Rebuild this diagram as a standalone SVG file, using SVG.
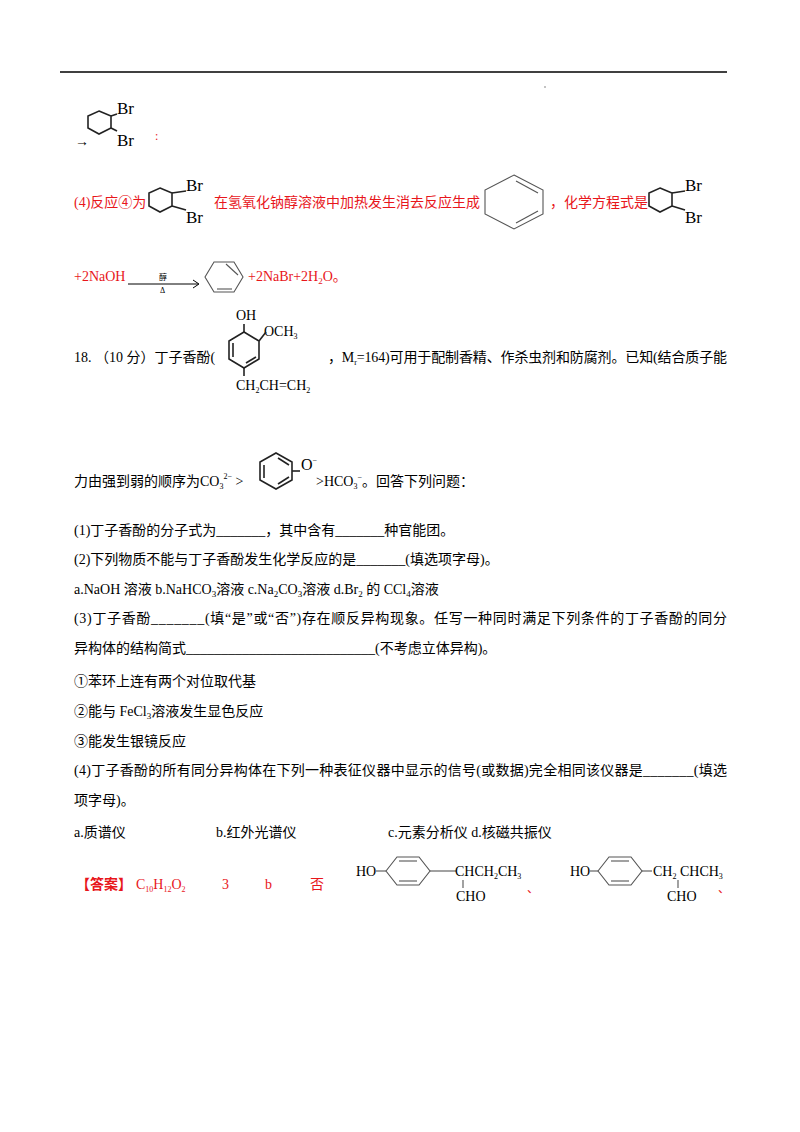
<svg xmlns="http://www.w3.org/2000/svg" width="800" height="1132" viewBox="0 0 800 1132">
<style>
svg{font-size:14px}
text{font-family:"Liberation Serif","Noto Sans CJK SC",serif;fill:#000}
.r{fill:#e8161b}
.b{stroke:#222;stroke-width:1.6;fill:none}
.g{stroke:#555;stroke-width:1.1;fill:none}
</style>
<rect width="800" height="1132" fill="#fff"/>
<line x1="60" y1="72" x2="727" y2="72" stroke="#000" stroke-width="1.5"/>
<circle cx="545" cy="87" r="0.8" fill="#777"/>
<g id="row1">
<text x="75" y="146">→</text>
<polygon class="b" points="99,111 111,116 111,128 99,134 88,128 88,116"/>
<line class="b" x1="111" y1="116" x2="117" y2="114"/><line class="b" x1="111" y1="128" x2="117" y2="131"/>
<text x="117" y="114" font-size="17">Br</text><text x="117" y="146" font-size="17">Br</text>
<text x="155" y="140" class="r" font-size="12">:</text>
</g>
<g id="row4">
<text x="74" y="207" class="r">(4)反应④为</text>
<polygon class="b" points="160,188 172,193 172,206 160,212 149,206 149,193"/>
<line class="b" x1="172" y1="193" x2="186" y2="191"/><line class="b" x1="172" y1="206" x2="186" y2="210"/>
<text x="186" y="191" font-size="17">Br</text><text x="186" y="223" font-size="17">Br</text>
<text x="214" y="207" class="r">在氢氧化钠醇溶液中加热发生消去反应生成</text>
<polygon class="g" points="514,175 543,190 543,214 514,229 485,214 485,190"/>
<line class="g" x1="516" y1="181" x2="538" y2="193"/><line class="g" x1="516" y1="223" x2="538" y2="211"/>
<text x="550" y="207" class="r">，化学方程式是</text>
<polygon class="b" points="660,188 672,193 672,206 660,212 649,206 649,193"/>
<line class="b" x1="672" y1="193" x2="685" y2="191"/><line class="b" x1="672" y1="206" x2="685" y2="210"/>
<text x="685" y="191" font-size="17">Br</text><text x="685" y="223" font-size="17">Br</text>
</g>
<g id="eq">
<text x="74" y="281" class="r">+2NaOH</text>
<line x1="128" y1="284" x2="198" y2="284" stroke="#000" stroke-width="1"/>
<polyline points="193,280 199,284 193,288" stroke="#000" fill="none" stroke-width="1"/>
<text x="159" y="280" font-size="8">醇</text><text x="160" y="293" font-size="8">Δ</text>
<polygon class="g" points="205,277 214,262 234,262 243,277 234,292 214,292"/>
<line class="g" x1="226" y1="264" x2="238" y2="275"/><line class="g" x1="217" y1="289" x2="232" y2="289"/>
<text x="248" y="281" class="r">+2NaBr+2H<tspan font-size="9" dy="3">2</tspan><tspan dy="-3">O。</tspan></text>
</g>
<g id="q18">
<text x="74" y="362">18. （10 分）丁子香酚(</text>
<text x="236" y="320">OH</text>
<text x="264" y="336">OCH<tspan font-size="8" dy="3">3</tspan></text>
<polygon class="b" points="244,332 259,341 259,359 244,368 229,359 229,341"/>
<line class="b" x1="233" y1="343" x2="233" y2="357"/><line class="b" x1="246" y1="363" x2="256" y2="357"/>
<line class="b" x1="244" y1="332" x2="244" y2="324"/><line class="b" x1="259" y1="341" x2="266" y2="332"/>
<line class="b" x1="244" y1="368" x2="244" y2="376"/>
<text x="236" y="390">CH<tspan font-size="8" dy="3">2</tspan><tspan dy="-3">CH=CH</tspan><tspan font-size="8" dy="3">2</tspan></text>
<text x="328" y="362" textLength="399">，M<tspan font-size="8" dy="3">r</tspan><tspan dy="-3">=164)可用于配制香精、作杀虫剂和防腐剂。已知(结合质子能</tspan></text>
<text x="74" y="486">力由强到弱的顺序为CO<tspan font-size="8" dy="3">3</tspan><tspan font-size="8" dy="-10">2−</tspan><tspan dy="7"> &gt;</tspan></text>
<polygon class="b" points="276,453 292,462 292,480 276,489 260,480 260,462"/>
<line class="b" x1="264" y1="465" x2="264" y2="478"/><line class="b" x1="278" y1="458" x2="289" y2="465"/><line class="b" x1="278" y1="484" x2="289" y2="477"/>
<line class="b" x1="292" y1="471" x2="300" y2="471"/>
<text x="301" y="470" font-size="16">O<tspan font-size="8" dy="-7">−</tspan></text>
<text x="316" y="486">&gt;HCO<tspan font-size="8" dy="3">3</tspan><tspan font-size="8" dy="-9">−</tspan><tspan dy="6">。回答下列问题：</tspan></text>
<text x="74" y="535">(1)丁子香酚的分子式为_______，其中含有_______种官能团。</text>
<text x="74" y="564">(2)下列物质不能与丁子香酚发生化学反应的是_______(填选项字母)。</text>
<text x="74" y="594">a.NaOH 溶液  b.NaHCO<tspan font-size="9" dy="3">3</tspan><tspan dy="-3">溶液  c.Na</tspan><tspan font-size="9" dy="3">2</tspan><tspan dy="-3">CO</tspan><tspan font-size="9" dy="3">3</tspan><tspan dy="-3">溶液  d.Br</tspan><tspan font-size="9" dy="3">2</tspan><tspan dy="-3"> 的 CCl</tspan><tspan font-size="9" dy="3">4</tspan><tspan dy="-3">溶液</tspan></text>
<text x="74" y="623" textLength="653">(3)丁子香酚_______(填“是”或“否”)存在顺反异构现象。任写一种同时满足下列条件的丁子香酚的同分</text>
<text x="74" y="653">异构体的结构简式___________________________(不考虑立体异构)。</text>
<text x="74" y="686">①苯环上连有两个对位取代基</text>
<text x="74" y="716">②能与 FeCl<tspan font-size="9" dy="3">3</tspan><tspan dy="-3">溶液发生显色反应</tspan></text>
<text x="74" y="746">③能发生银镜反应</text>
<text x="74" y="775" textLength="653">(4)丁子香酚的所有同分异构体在下列一种表征仪器中显示的信号(或数据)完全相同该仪器是_______(填选</text>
<text x="74" y="805">项字母)。</text>
<text x="74" y="837">a.质谱仪</text><text x="216" y="837">b.红外光谱仪</text><text x="388" y="837">c.元素分析仪 d.核磁共振仪</text>
</g>
<g id="answer">
<text x="76" y="889" class="r" font-weight="bold">【答案】</text>
<text x="136" y="889" class="r">C<tspan font-size="8" dy="3">10</tspan><tspan dy="-3">H</tspan><tspan font-size="8" dy="3">12</tspan><tspan dy="-3">O</tspan><tspan font-size="8" dy="3">2</tspan></text>
<text x="222" y="889" class="r">3</text><text x="265" y="889" class="r">b</text><text x="310" y="889" class="r">否</text>
<text x="356" y="876" fill="#333">HO</text>
<polygon class="g" points="386,871 397,857 419,857 430,871 419,885 397,885"/>
<line class="g" x1="399" y1="861" x2="417" y2="861"/><line class="g" x1="399" y1="881" x2="417" y2="881"/>
<line class="g" x1="376" y1="871" x2="386" y2="871"/><line class="g" x1="430" y1="871" x2="456" y2="871"/>
<text x="455" y="876" fill="#333">CHCH<tspan font-size="8" dy="3">2</tspan><tspan dy="-3">CH</tspan><tspan font-size="8" dy="3">3</tspan></text>
<line class="g" x1="463" y1="880" x2="463" y2="888"/>
<text x="456" y="901" fill="#333">CHO</text>
<text x="527" y="893" class="r" font-size="12">、</text>
<text x="570" y="876" fill="#333">HO</text>
<polygon class="g" points="598,871 609,857 631,857 642,871 631,885 609,885"/>
<line class="g" x1="611" y1="861" x2="629" y2="861"/><line class="g" x1="611" y1="881" x2="629" y2="881"/>
<line class="g" x1="590" y1="871" x2="598" y2="871"/><line class="g" x1="642" y1="871" x2="652" y2="871"/>
<text x="653" y="876" fill="#333">CH<tspan font-size="8" dy="3">2</tspan><tspan dy="-3"> CHCH</tspan><tspan font-size="8" dy="3">3</tspan></text>
<line class="g" x1="678" y1="880" x2="678" y2="888"/>
<text x="667" y="901" fill="#333">CHO</text>
<text x="718" y="893" class="r" font-size="12">、</text>
</g>
</svg>
